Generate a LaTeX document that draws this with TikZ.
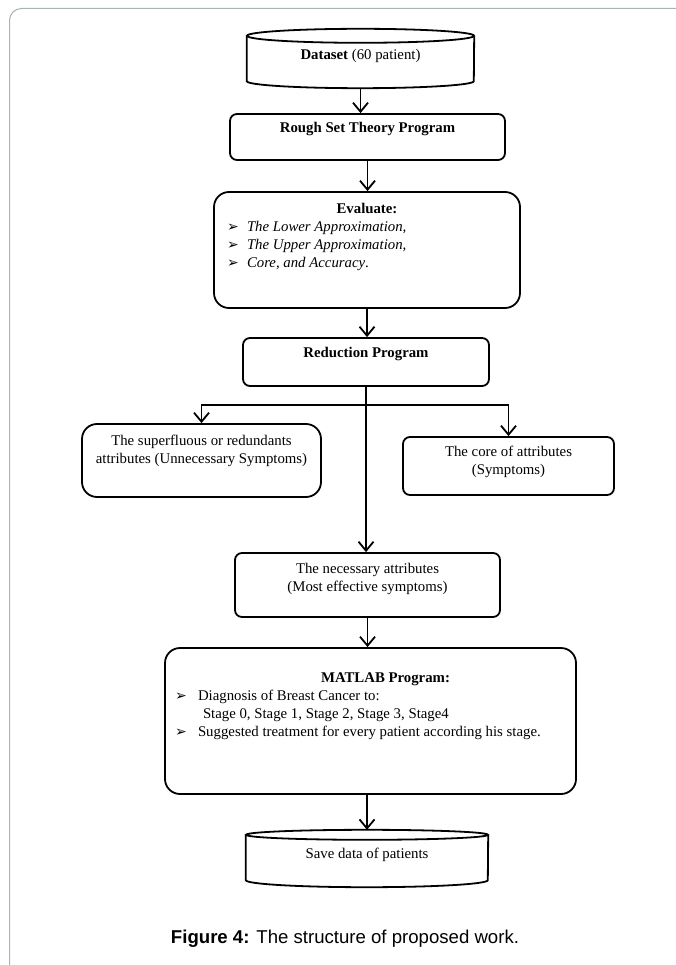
\documentclass[tikz,border=0pt]{standalone}
\usepackage{fontspec}
\setmainfont{Liberation Serif}
\newfontfamily\capfont{Liberation Sans}
\newfontfamily\symfont{DejaVu Sans}
\usetikzlibrary{positioning}
\usetikzlibrary{arrows.meta}
\definecolor{framegray}{RGB}{170,180,180}

\newcommand{\bul}[1][20pt]{\makebox[#1][l]{\symfont\fontsize{14}{14}\selectfont ➢}}
\newcommand{\boxtxt}[3]{\parbox[c][#1][t]{#2}{\baselineskip=18pt #3}}

\begin{document}
\begin{tikzpicture}[x=1pt,y=-1pt,>={Straight Barb[length=9pt,width=15pt]},
	font=\fontsize{14.8}{17.5}\selectfont,
	box/.style={draw,line width=1.8pt,rounded corners=7pt,inner sep=0pt},
	bigbox/.style={box,rounded corners=15pt},
	drum/.style={inner sep=0pt},
	line/.style={line width=1.8pt},
	link/.style={->,line width=1.8pt}, ]

	\useasboundingbox (0,0) rectangle (676,965);
	\begin{scope}
	\clip (0,0) rectangle (676,965);
	\draw[framegray, line width=1pt, rounded corners=12pt] (9.5,8.5) rectangle (740,1010);
	\end{scope}

	\node[drum] (ds) at (360.5,58.5) {\boxtxt{59pt}{227pt}{\centering\rule{0pt}{31pt}\textbf{Dataset} (60 patient)}};
	\node[box] (rst) at (367.5,137) {\boxtxt{46pt}{275pt}{\centering\rule{0pt}{19pt}\textbf{Rough Set Theory Program}}};
	\node[bigbox] (ev) at (367,250) {\boxtxt{116pt}{306pt}{\centering\rule{0pt}{22pt}\textbf{Evaluate:}\par
		\raggedright
		\hspace*{13pt}\bul\textit{The Lower Approximation,}\par
		\hspace*{13pt}\bul\textit{The Upper Approximation,}\par
		\hspace*{13pt}\bul\textit{Core, and Accuracy}.\par}};
	\node[box] (red) at (366,362) {\boxtxt{48pt}{246pt}{\centering\rule{0pt}{19pt}\textbf{Reduction Program}}};
	\node[bigbox] (sup) at (201.5,460.5) {\boxtxt{73pt}{239pt}{\centering\rule{0pt}{21pt}The superfluous or redundants\\attributes (Unnecessary Symptoms)}};
	\node[box] (core) at (508.5,466) {\boxtxt{58pt}{211pt}{\centering\rule{0pt}{19pt}The core of attributes\\(Symptoms)}};
	\node[box] (nec) at (367.5,585) {\boxtxt{64pt}{265pt}{\centering\rule{0pt}{20pt}The necessary attributes\\(Most effective symptoms)}};
	\node[bigbox] (mat) at (370.5,721) {\boxtxt{146pt}{411pt}{\centering\rule{0pt}{34pt}\hspace*{30pt}\textbf{MATLAB Program:}\par
		\raggedright
		\hspace*{10pt}\bul[23pt]Diagnosis of Breast Cancer to:\par
		\hspace*{38pt}Stage 0, Stage 1, Stage 2, Stage 3, Stage4\par
		\hspace*{10pt}\bul[23pt]\mbox{Suggested treatment for every patient according his stage.}\par}};
	\node[drum] (sav) at (367,858.5) {\boxtxt{57pt}{242pt}{\centering\rule{0pt}{28pt}Save data of patients}};
	\node[font=\capfont\fontsize{18.6}{22}\selectfont] (cap) at (345,939) {\textbf{Figure 4:} The structure of proposed work.};

	% drums
	\draw[line] ([yshift=-7pt]ds.north) ellipse [x radius=113.5pt, y radius=7pt];
	\draw[line] ([yshift=-7pt]ds.north west) -- ([yshift=7pt]ds.south west) arc [start angle=180, end angle=360, x radius=113.5pt, y radius=7pt] -- ([yshift=-7pt]ds.north east);
	\draw[line] ([yshift=-5pt]sav.north) ellipse [x radius=121pt, y radius=5pt];
	\draw[line] ([yshift=-5pt]sav.north west) -- ([yshift=7pt]sav.south west) arc [start angle=180, end angle=360, x radius=121pt, y radius=7pt] -- ([yshift=-5pt]sav.north east);

	\draw[link] (ds.south) -- (ds.south |- rst.north);
	\draw[link] (rst.south) -- (rst.south |- ev.north);
	\draw[link] (ev.south) -- (ev.south |- red.north);
	\draw[line] (red.south) -- ++(0,18) coordinate (fork);
	\draw[link] (fork) -| (sup.north);
	\draw[link] (fork) -| (core.north);
	\draw[link] (fork) -- (fork |- nec.north);
	\draw[link] (nec.south) -- (nec.south |- mat.north);
	\draw[link] (sav.north |- mat.south) -- (sav.north);
\end{tikzpicture}
\end{document}
